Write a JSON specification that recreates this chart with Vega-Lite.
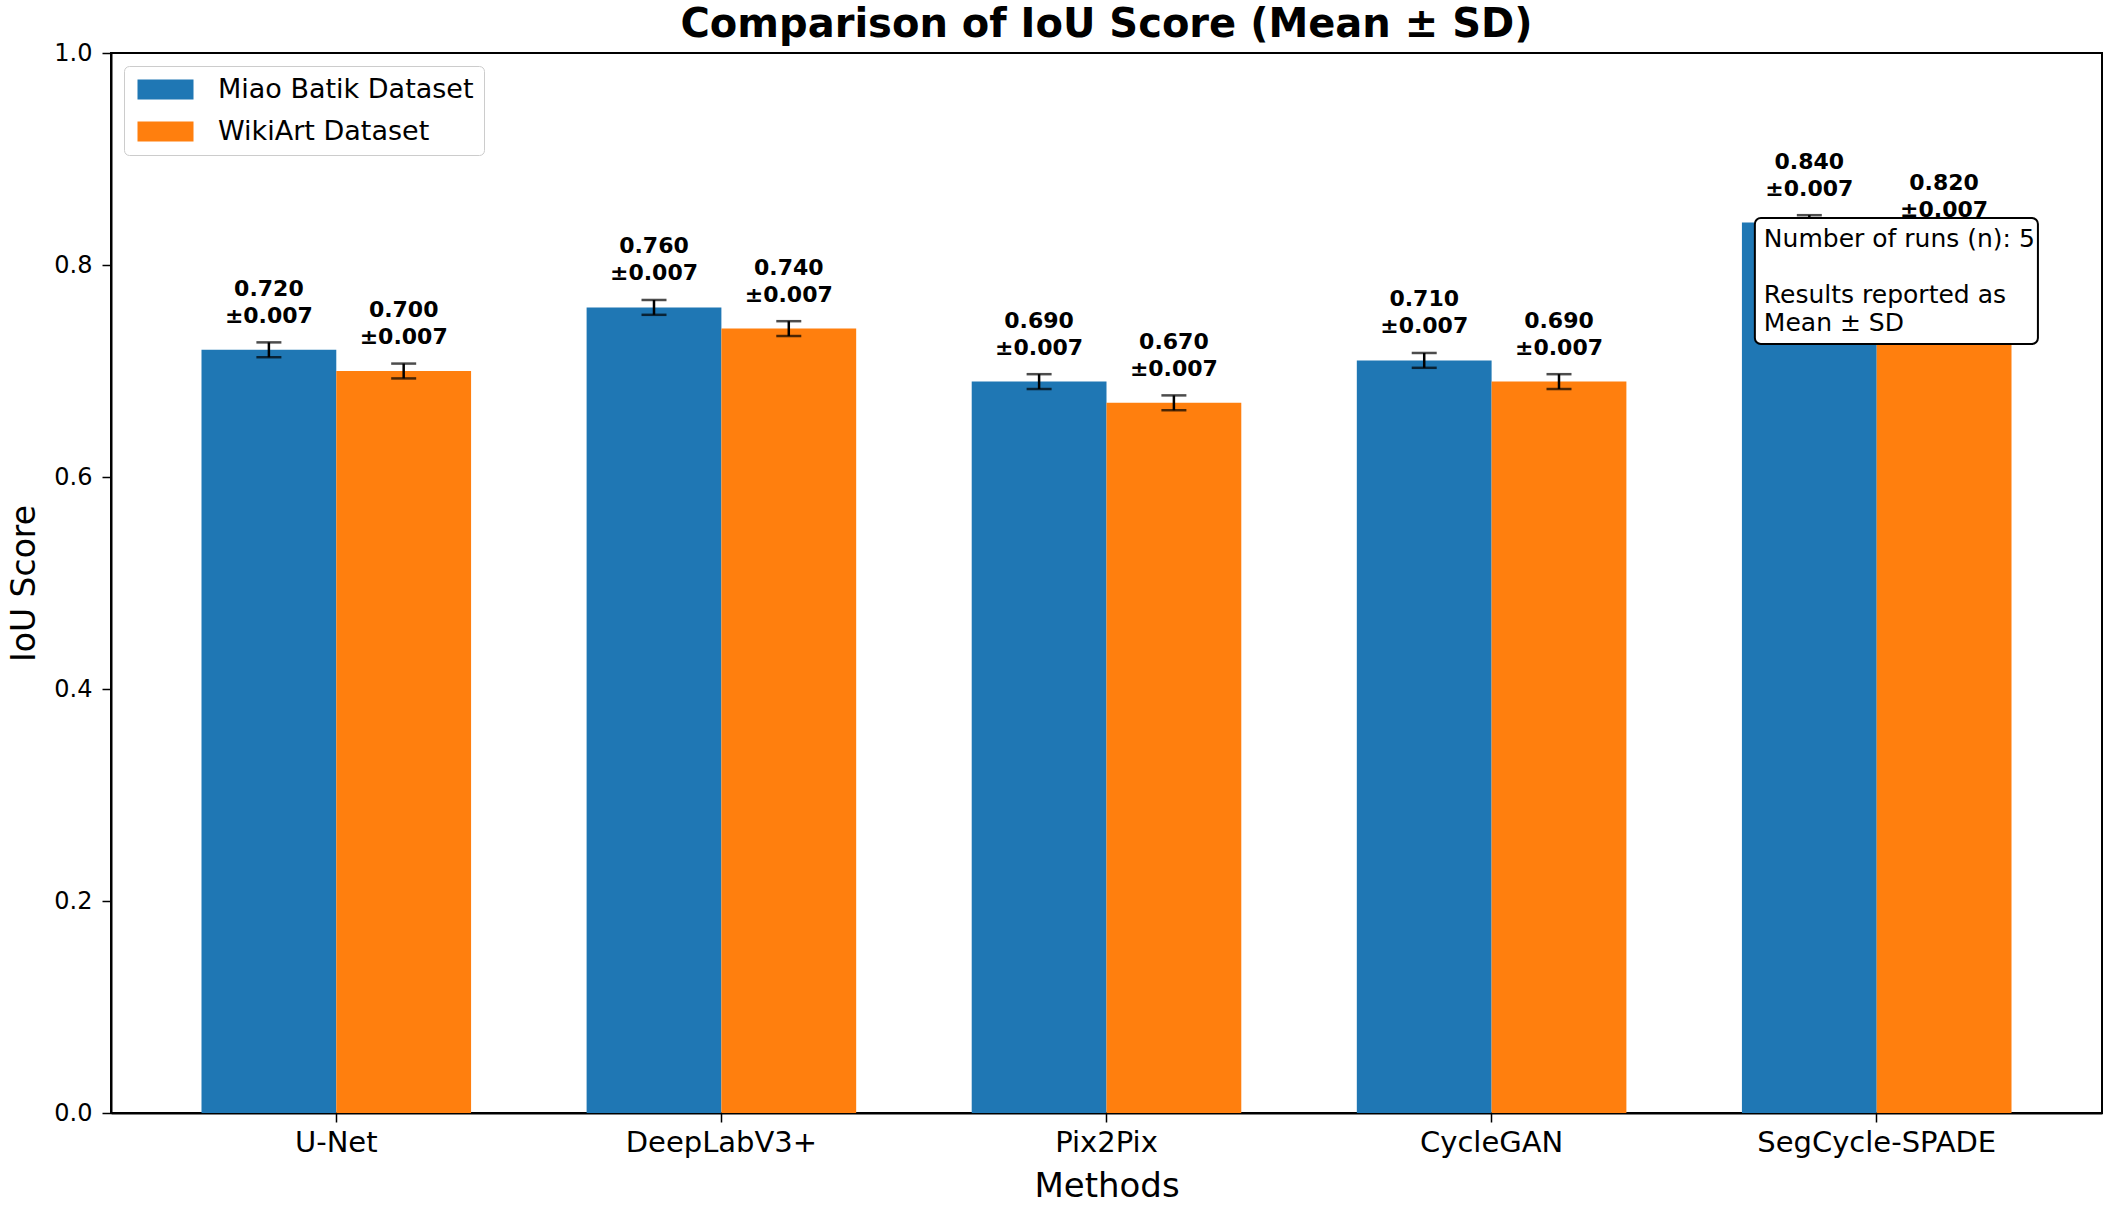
{
  "$schema": "https://vega.github.io/schema/vega-lite/v6.json",
  "width": 1991,
  "height": 1060,
  "padding": {"left": 8, "top": 5, "right": 6, "bottom": 5},
  "background": "white",
  "title": {
    "text": "Comparison of IoU Score (Mean ± SD)",
    "fontSize": 40,
    "fontWeight": "bold",
    "font": "DejaVu Sans",
    "color": "black",
    "anchor": "middle",
    "offset": -4
  },
  "data": {
    "values": [
      {"Method": "U-Net", "Dataset": "Miao Batik Dataset", "mean": 0.72, "sd": 0.007, "label": "0.720\n±0.007"},
      {"Method": "U-Net", "Dataset": "WikiArt Dataset", "mean": 0.70, "sd": 0.007, "label": "0.700\n±0.007"},
      {"Method": "DeepLabV3+", "Dataset": "Miao Batik Dataset", "mean": 0.76, "sd": 0.007, "label": "0.760\n±0.007"},
      {"Method": "DeepLabV3+", "Dataset": "WikiArt Dataset", "mean": 0.74, "sd": 0.007, "label": "0.740\n±0.007"},
      {"Method": "Pix2Pix", "Dataset": "Miao Batik Dataset", "mean": 0.69, "sd": 0.007, "label": "0.690\n±0.007"},
      {"Method": "Pix2Pix", "Dataset": "WikiArt Dataset", "mean": 0.67, "sd": 0.007, "label": "0.670\n±0.007"},
      {"Method": "CycleGAN", "Dataset": "Miao Batik Dataset", "mean": 0.71, "sd": 0.007, "label": "0.710\n±0.007"},
      {"Method": "CycleGAN", "Dataset": "WikiArt Dataset", "mean": 0.69, "sd": 0.007, "label": "0.690\n±0.007"},
      {"Method": "SegCycle-SPADE", "Dataset": "Miao Batik Dataset", "mean": 0.84, "sd": 0.007, "label": "0.840\n±0.007"},
      {"Method": "SegCycle-SPADE", "Dataset": "WikiArt Dataset", "mean": 0.82, "sd": 0.007, "label": "0.820\n±0.007"}
    ]
  },
  "encoding": {
    "x": {
      "field": "Method",
      "type": "nominal",
      "sort": null,
      "title": "Methods",
      "scale": {"paddingInner": 0.3, "paddingOuter": 0.235},
      "axis": {
        "labelAngle": 0,
        "labelFontSize": 29,
        "labelLimit": 0,
        "titleFontSize": 34,
        "titleFontWeight": "normal",
        "tickSize": 9,
        "tickWidth": 1.5,
        "labelPadding": 6,
        "titlePadding": 12
      }
    },
    "xOffset": {
      "field": "Dataset",
      "type": "nominal",
      "sort": null,
      "scale": {"paddingInner": 0, "paddingOuter": 0}
    }
  },
  "layer": [
    {
      "mark": {"type": "bar"},
      "encoding": {
        "y": {
          "field": "mean",
          "type": "quantitative",
          "title": "IoU Score",
          "scale": {"domain": [0, 1], "nice": false},
          "axis": {
            "values": [0, 0.2, 0.4, 0.6, 0.8, 1.0],
            "format": ".1f",
            "grid": false,
            "labelFontSize": 24,
            "titleFontSize": 33,
            "titleFontWeight": "normal",
            "tickSize": 9,
            "tickWidth": 1.5,
            "labelPadding": 10,
            "titlePadding": 12
          }
        },
        "color": {
          "field": "Dataset",
          "type": "nominal",
          "sort": null,
          "scale": {"range": ["#1f77b4", "#ff7f0e"]},
          "legend": {
            "title": null,
            "orient": "top-left",
            "offset": 13,
            "labelFontSize": 27,
            "labelLimit": 0,
            "labelColor": "black",
            "symbolType": "M-2.8,-1H2.8V1H-2.8Z",
            "symbolSize": 400,
            "symbolOffset": 18,
            "symbolStrokeWidth": 0,
            "symbolOpacity": 1,
            "labelOffset": 39,
            "rowPadding": 14,
            "padding": 10,
            "fillColor": "white",
            "strokeColor": "#cccccc",
            "cornerRadius": 5
          }
        }
      }
    },
    {
      "mark": {
        "type": "errorbar",
        "ticks": {"size": 25, "thickness": 2.5, "color": "black"},
        "rule": {"strokeWidth": 2.5, "color": "black"}
      },
      "encoding": {
        "y": {"field": "mean", "type": "quantitative", "title": "IoU Score"},
        "yError": {"field": "sd"}
      }
    },
    {
      "mark": {
        "type": "text",
        "baseline": "bottom",
        "align": "center",
        "dy": -49,
        "fontSize": 22,
        "fontWeight": "bold",
        "lineBreak": "\n",
        "lineHeight": 27,
        "color": "black"
      },
      "encoding": {
        "y": {"field": "mean", "type": "quantitative", "title": "IoU Score"},
        "text": {"field": "label"}
      }
    },
    {
      "data": {"values": [{"note": "box"}]},
      "mark": {
        "type": "rect",
        "fill": "white",
        "stroke": "black",
        "strokeWidth": 2,
        "cornerRadius": 6
      },
      "encoding": {
        "x": {"datum": "SegCycle-SPADE", "bandPosition": 0.048},
        "x2": {"datum": "SegCycle-SPADE", "bandPosition": 1.098},
        "xOffset": null,
        "y": {"datum": 0.8443},
        "y2": {"datum": 0.7255}
      }
    },
    {
      "data": {"values": [{"note": "Number of runs (n): 5"}]},
      "mark": {
        "type": "text",
        "align": "left",
        "baseline": "top",
        "dx": 9,
        "fontSize": 25,
        "color": "black"
      },
      "encoding": {
        "x": {"datum": "SegCycle-SPADE", "bandPosition": 0.048},
        "xOffset": null,
        "y": {"datum": 0.8358},
        "text": {"field": "note"}
      }
    },
    {
      "data": {"values": [{"note": "Results reported as\nMean ± SD"}]},
      "mark": {
        "type": "text",
        "align": "left",
        "baseline": "top",
        "dx": 9,
        "dy": 56,
        "fontSize": 25,
        "lineBreak": "\n",
        "lineHeight": 28,
        "color": "black"
      },
      "encoding": {
        "x": {"datum": "SegCycle-SPADE", "bandPosition": 0.048},
        "xOffset": null,
        "y": {"datum": 0.8358},
        "text": {"field": "note"}
      }
    }
  ],
  "config": {
    "font": "DejaVu Sans",
    "view": {"stroke": "black", "strokeWidth": 2},
    "axis": {
      "domainColor": "black",
      "domainWidth": 2,
      "tickColor": "black",
      "labelColor": "black",
      "titleColor": "black",
      "labelFont": "DejaVu Sans",
      "titleFont": "DejaVu Sans"
    },
    "legend": {"labelFont": "DejaVu Sans"}
  }
}
